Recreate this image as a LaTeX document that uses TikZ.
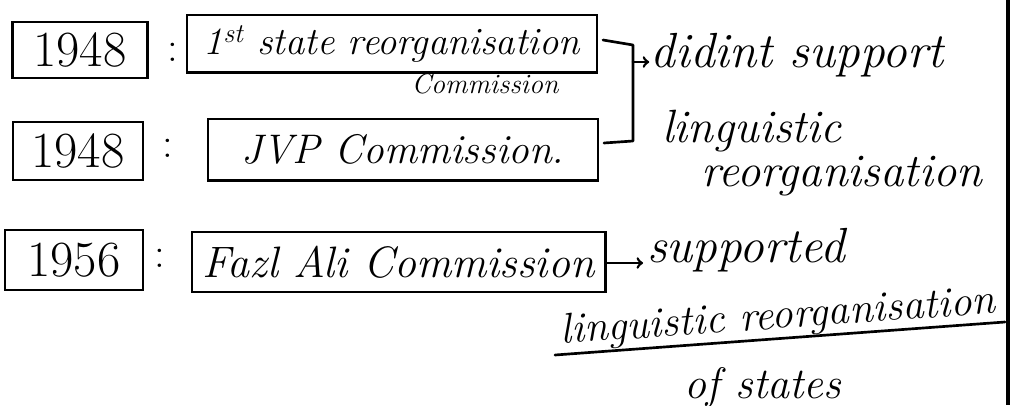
\documentclass[tikz,border=0pt]{standalone}
\usepackage{amsmath}
\usepackage{amssymb}
\usepackage{tikz}

\tikzset{
  yearbox/.style={draw, line width=2pt, inner sep=0pt, font=\fontsize{38}{40}\selectfont},
  notebox/.style={draw, line width=2pt, inner sep=0pt, font=\itshape\fontsize{31}{34}\selectfont},
  hand/.style={inner sep=0.75pt, font=\itshape\fontsize{35}{37}\selectfont},
  pen/.style={line width=2pt, line cap=round, line join=round}
}

\begin{document}
\begin{tikzpicture}[x=0.75pt,y=0.75pt,yscale=-1,xscale=1]
        \useasboundingbox (0,0) rectangle (1015,405);

        %Shape: Rectangle (years)
        \node [yearbox, minimum width=101pt, minimum height=42pt] (yearA) at (80,50) {1948};
        \node [yearbox, minimum width=97.5pt, minimum height=43.5pt] (yearB) at (78,151) {1948};
        \node [yearbox, minimum width=103.5pt, minimum height=45pt] (yearC) at (74,260) {1956};

        % Text Node (colons)
        \node [font=\fontsize{32}{34}\selectfont] (colA) at (173,52) {:};
        \node [font=\fontsize{32}{34}\selectfont] (colB) at (168,148) {:};
        \node [font=\fontsize{32}{34}\selectfont] (colC) at (160,258) {:};

        %Shape: Rectangle (commissions)
        \node [notebox, minimum width=307.5pt, minimum height=43pt, font=\itshape\fontsize{29}{32}\selectfont] (firstsrc) at (392,43.5) {1\textsuperscript{st} state reorganisation};
        \node [notebox, minimum width=292.5pt, minimum height=46pt] (jvp) at (403,149.5) {JVP Commission.\hspace{52pt}};
        \node [notebox, minimum width=310pt, minimum height=45pt, font=\itshape\fontsize{33}{36}\selectfont] (fazl) at (398.5,262) {Fazl Ali Commission};

        % Text Node
        \node [hand, font=\itshape\fontsize{21}{22}\selectfont] (firstsub) at (485,84) {Commission};

        % Text Node
        \node [hand, font=\itshape\fontsize{37}{39}\selectfont] (didint) at (797,55) {didint support};
        \node [hand] (lingA) at (752,131) {linguistic};
        \node [hand] (reorgA) at (842,176) {reorganisation};
        % Text Node
        \node [hand, font=\itshape\fontsize{37}{39}\selectfont] (supported) at (746,250) {supported};
        \node [hand, font=\itshape\fontsize{32}{34}\selectfont, rotate=4] (lingB) at (778,318) {linguistic reorganisation};
        \node [hand, font=\itshape\fontsize{33}{35}\selectfont] (ofstates) at (763,387) {of states};

        %Straight Lines (bracket)
        \coordinate (brinA) at (603,40);
        \coordinate (brtop) at (633,45);
        \coordinate (brmid) at (633,62);
        \coordinate (brbot) at (633,141);
        \coordinate (brinB) at (604,143);
        \draw [pen] (brinA) -- (brtop) -- (brbot) -- (brinB) ;
        \draw [pen, ->] (brmid) -- (didint.west |- brmid) ;

        %Straight Lines (arrow)
        \coordinate (arlvl) at (0,263);
        \draw [pen, ->] (fazl.east |- arlvl) -- ([xshift=-2pt]supported.west |- arlvl) ;

        %Straight Lines (underline)
        \coordinate (ulA) at (555,355);
        \coordinate (ulB) at (1005,322);
        \draw [pen] (ulA) -- (ulB) ;

        %Straight Lines (margin)
        \coordinate (mgtop) at (1008,0);
        \coordinate (mgbot) at (1008,405);
        \draw [line width=2.4pt] (mgtop) -- (mgbot) ;

\end{tikzpicture}
\end{document}
